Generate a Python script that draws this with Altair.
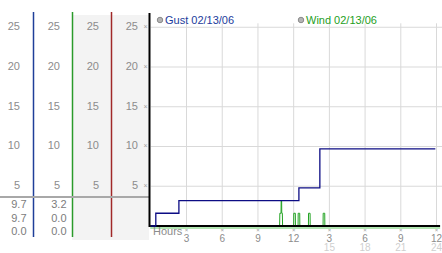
import altair as alt
import pandas as pd

# ---- data ----
y_ticks = [25, 20, 15, 10, 5]
x_tick_hours = [3, 6, 9, 12, 15, 18, 21, 24]
x_tick_labels = ["3", "6", "9", "12", "3", "6", "9", "12"]
x_sub_hours = [15, 18, 21, 24]
x_sub_labels = ["15", "18", "21", "24"]

gust_hours = [0.0, 0.42, 2.36, 12.44, 14.2, 23.9]
gust_speed = [0.0, 1.6, 3.2, 4.8, 9.7, 9.7]

wind_hours = [0.0, 10.82, 10.84, 10.94, 10.95, 10.99, 11.0, 11.05, 11.07,
              12.0, 12.01, 12.14, 12.15,
              12.37, 12.38, 12.51, 12.52,
              13.24, 13.25, 13.38, 13.39,
              14.47, 14.48, 14.61, 14.62, 23.9]
wind_speed = [0.0, 0.0, 1.6, 1.6, 3.2, 3.2, 1.6, 1.6, 0.0,
              0.0, 1.6, 1.6, 0.0,
              0.0, 1.6, 1.6, 0.0,
              0.0, 1.6, 1.6, 0.0,
              0.0, 1.6, 1.6, 0.0, 0.0]

legend_labels = ["Gust 02/13/06", "Wind 02/13/06"]
gust_stats = ["9.7", "9.7", "0.0"]
wind_stats = ["3.2", "0.0", "0.0"]

# ---- styles ----
W, H = 442, 253
LABEL = "#8c8c8c"
GRID = "#d9d9d9"
FONT = "Liberation Sans"
xs = alt.Scale(domain=[-12.667, 24.46], nice=False, zero=False)
ys = alt.Scale(domain=[-3.4, 28.43], nice=False, zero=False)


def X(f):
    return alt.X(f, type="quantitative", scale=xs, axis=None)


def Y(f):
    return alt.Y(f, type="quantitative", scale=ys, axis=None)


one = pd.DataFrame({"a": [0]})
layers = []

# grey background of columns 3-4
layers.append(alt.Chart(one).mark_rect(color="#f3f3f3").encode(
    x=alt.value(72), x2=alt.value(149), y=alt.value(15), y2=alt.value(240)))

# grid
hgrid = pd.DataFrame({"v": y_ticks, "x0": 0.0, "x1": 24.46})
layers.append(alt.Chart(hgrid).mark_rule(color=GRID, strokeWidth=1).encode(
    y=Y("v"), x=X("x0"), x2="x1"))
vgrid = pd.DataFrame({"h": x_tick_hours, "y0": 0.0, "y1": 25.5})
layers.append(alt.Chart(vgrid).mark_rule(color=GRID, strokeWidth=1).encode(
    x=X("h"), y=Y("y0"), y2="y1"))

# left panel separators
for px, col in [(33.5, "#1f3f99"), (72.5, "#2a9a2a"), (111.5, "#a02828")]:
    layers.append(alt.Chart(one).mark_rule(color=col, strokeWidth=1.5).encode(
        x=alt.value(px), y=alt.value(12), y2=alt.value(237)))
layers.append(alt.Chart(one).mark_rule(color="#a8a8a8", strokeWidth=2).encode(
    x=alt.value(0), x2=alt.value(150), y=alt.value(197)))

# y labels in each column
yl = pd.DataFrame({"v": y_ticks, "t": [str(v) for v in y_ticks]})
for px in [20, 60, 99, 138]:
    layers.append(alt.Chart(yl).mark_text(
        align="right", baseline="middle", font=FONT, fontSize=11, color=LABEL).encode(
        x=alt.value(px), y=Y("v"), text="t:N"))
layers.append(alt.Chart(yl).mark_text(
    align="center", baseline="middle", font=FONT, fontSize=7, color="#a0a0a0").encode(
    x=alt.value(145.5), y=Y("v"), text=alt.value("×")))

# wind line
wind = pd.DataFrame({"h": wind_hours, "v": wind_speed})
layers.append(alt.Chart(wind).mark_line(color="#22a322", strokeWidth=1).encode(
    x=X("h"), y=Y("v")))

# axes lines
axis_df = pd.DataFrame({"v": [0.0], "x0": [-0.05], "x1": [24.3]})
layers.append(alt.Chart(axis_df).mark_rule(color="#000000", strokeWidth=2).encode(
    y=Y("v"), x=X("x0"), x2="x1"))
layers.append(alt.Chart(axis_df).mark_rule(color="#66cc66", strokeWidth=1).encode(
    y=alt.value(228), x=X("x0"), x2="x1"))
layers.append(alt.Chart(one).mark_rule(color="#000000", strokeWidth=2).encode(
    x=alt.value(149.5), y=alt.value(13), y2=alt.value(227)))

# gust line
gust = pd.DataFrame({"h": gust_hours, "v": gust_speed})
layers.append(alt.Chart(gust).mark_line(
    color="#0c0c84", strokeWidth=1.3, interpolate="step-after").encode(
    x=X("h"), y=Y("v")))

# x labels
xl = pd.DataFrame({"h": x_tick_hours, "t": x_tick_labels})
layers.append(alt.Chart(xl).mark_text(
    align="center", baseline="middle", font=FONT, fontSize=6, color="#a0a0a0").encode(
    x=X("h"), y=alt.value(230), text=alt.value("×")))
layers.append(alt.Chart(xl).mark_text(
    align="center", baseline="middle", font=FONT, fontSize=10, color=LABEL).encode(
    x=X("h"), y=alt.value(238.5), text="t:N"))
xsub = pd.DataFrame({"h": x_sub_hours, "t": x_sub_labels})
layers.append(alt.Chart(xsub).mark_text(
    align="center", baseline="middle", font=FONT, fontSize=10, color="#cfcfcf").encode(
    x=X("h"), y=alt.value(248), text="t:N"))
layers.append(alt.Chart(one).mark_text(
    align="left", baseline="middle", font=FONT, fontSize=11, color=LABEL).encode(
    x=alt.value(153), y=alt.value(232), text=alt.value("Hours")))

# legend
for (px, col, lab) in [(160, "#1c3c9c", legend_labels[0]), (301, "#1e9e1e", legend_labels[1])]:
    layers.append(alt.Chart(one).mark_point(
        shape="circle", filled=True, size=30, fill="#b4b4b4", stroke="#8a8a8a",
        strokeWidth=1, opacity=1).encode(x=alt.value(px), y=alt.value(20)))
    layers.append(alt.Chart(one).mark_text(
        align="left", baseline="middle", font=FONT, fontSize=11, color=col).encode(
        x=alt.value(px + 5), y=alt.value(20.5), text=alt.value(lab)))

# stats table
for px, stats in [(26.5, gust_stats), (66.5, wind_stats)]:
    for i, (py, s) in enumerate(zip([205, 218.5, 232], stats)):
        layers.append(alt.Chart(one).mark_text(
            align="right", baseline="middle", font=FONT, fontSize=11, color="#7c7c7c").encode(
            x=alt.value(px), y=alt.value(py), text=alt.value(s)))

chart = alt.layer(*layers).properties(
    width=W, height=H, autosize=alt.AutoSizeParams(type="none"), padding=0,
    background="white"
).configure_view(strokeWidth=0)

chart.save("out.html", embed_options={"renderer": "svg", "actions": False})
